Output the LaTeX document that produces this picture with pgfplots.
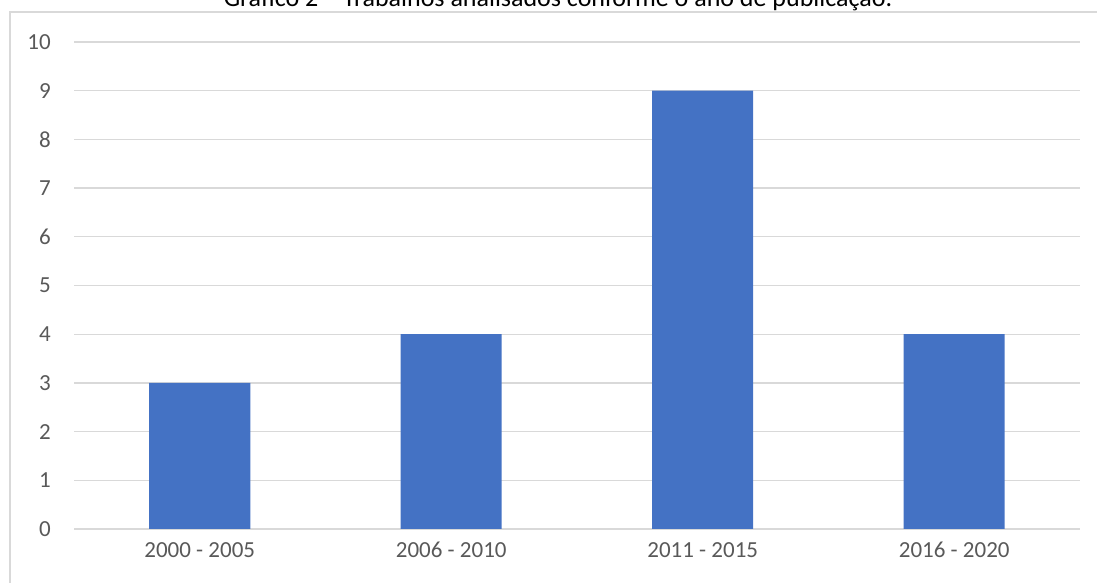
\documentclass[border=0pt]{standalone}
\usepackage{pgfplots}
\pgfplotsset{compat=1.18}
\usepackage{fontspec}
\setmainfont{Carlito}
\definecolor{barblue}{HTML}{4472C4}
\definecolor{labelgray}{HTML}{595959}
\definecolor{gridgray}{HTML}{D9D9D9}
\begin{document}
\begin{tikzpicture}[x=1pt,y=1pt]
% chart frame (runs past the right and bottom edges of the page)
\draw[gridgray, line width=1.3pt] (1110,-10) -- (10,-10) -- (10,571) -- (1110,571);
% title, partly cut by the top edge
\node[anchor=base, inner sep=0pt, font=\fontsize{26}{30}\selectfont, text=black]
  at (558,576) {Gráfico 2 – Trabalhos analisados conforme o ano de publicação.};
\begin{axis}[
  at={(74pt,54pt)}, anchor=south west,
  scale only axis, width=1006pt, height=487pt,
  xmin=-0.5, xmax=3.5, ymin=0, ymax=10,
  xtick={0,1,2,3},
  xticklabels={2000 - 2005, 2006 - 2010, 2011 - 2015, 2016 - 2020},
  ytick={0,1,...,10},
  ymajorgrids, grid style={gridgray, line width=1.3pt},
  axis line style={draw=none},
  major tick length=0pt,
  tick label style={font=\fontsize{23}{27}\selectfont, text=labelgray},
  xticklabel style={anchor=base, inner sep=0pt, yshift=-29pt},
  yticklabel style={anchor=east, inner sep=0pt, xshift=-23pt},
  /pgf/number format/assume math mode=true,
  clip=false,
]
\draw[gridgray, line width=1.3pt] (axis cs:-0.5,0) -- (axis cs:3.5,0);
\addplot[ybar, bar width=101pt, fill=barblue, draw=none] coordinates {
  (0,3) (1,4) (2,9) (3,4)
};
\end{axis}
\pgfresetboundingbox
\path[use as bounding box] (0,0) rectangle (1097,583);
\end{tikzpicture}
\end{document}
